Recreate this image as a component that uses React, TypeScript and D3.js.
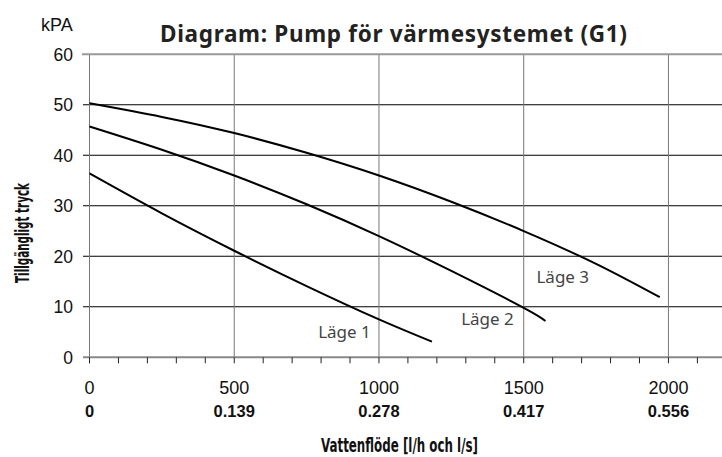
import React, { useEffect, useRef } from "react";
import * as d3 from "d3";

// Flow in l/h, pressure in kPa
const lage1: [number, number][] = [
  [0, 36.4], [250, 28.5], [500, 21.1], [750, 14.1], [1000, 7.5], [1183, 3.1],
];
const lage2: [number, number][] = [
  [0, 45.7], [250, 41.1], [500, 36.0], [750, 30.3], [1000, 24.0], [1250, 17.1],
  [1500, 9.8], [1575, 7.2],
];
const lage3: [number, number][] = [
  [0, 50.3], [250, 47.6], [500, 44.4], [750, 40.5], [1000, 36.0], [1250, 30.8],
  [1500, 25.0], [1750, 18.5], [1970, 11.9],
];
const curves = [lage1, lage2, lage3];

// label text with its anchor (flow, pressure at baseline)
const curveLabels: { text: string; x: number; y: number }[] = [
  { text: "Läge 1", x: 790, y: 3.8 },
  { text: "Läge 2", x: 1284, y: 6.4 },
  { text: "Läge 3", x: 1544, y: 14.8 },
];

const yTicks = [0, 10, 20, 30, 40, 50, 60];
const xTicks = [0, 500, 1000, 1500, 2000];
const xTicksLs = ["0", "0.139", "0.278", "0.417", "0.556"];
const minorTicks = d3.range(0, 2200, 100);

const W = 722;
const H = 457;

const App: React.FC = () => {
  const svgRef = useRef<SVGSVGElement>(null);

  useEffect(() => {
    if (!svgRef.current) return;
    const svg = d3.select(svgRef.current);
    svg.selectAll("*").remove();

    const x = d3.scaleLinear().domain([0, 2185]).range([89.5, W]);
    const y = d3.scaleLinear().domain([0, 60]).range([357.3, 54.3]);
    const left = 83;

    // horizontal grid
    svg.append("g")
      .selectAll("line")
      .data(yTicks.filter(d => d > 0 && d < 60))
      .join("line")
      .attr("x1", left).attr("x2", W)
      .attr("y1", d => y(d)).attr("y2", d => y(d))
      .attr("stroke", "#000")
      .attr("stroke-width", 1.1);

    // vertical grid
    svg.append("g")
      .selectAll("line")
      .data(xTicks.filter(d => d > 0))
      .join("line")
      .attr("x1", d => x(d)).attr("x2", d => x(d))
      .attr("y1", y(60)).attr("y2", y(0))
      .attr("stroke", "#777")
      .attr("stroke-width", 1);

    // left axis line
    svg.append("line")
      .attr("x1", x(0)).attr("x2", x(0))
      .attr("y1", y(60)).attr("y2", y(0) + 6)
      .attr("stroke", "#777")
      .attr("stroke-width", 1);

    // top border and bottom axis
    svg.append("line")
      .attr("x1", left - 1).attr("x2", W)
      .attr("y1", y(60)).attr("y2", y(60))
      .attr("stroke", "#999")
      .attr("stroke-width", 2);
    svg.append("line")
      .attr("x1", left).attr("x2", W)
      .attr("y1", y(0)).attr("y2", y(0))
      .attr("stroke", "#888")
      .attr("stroke-width", 2);

    // minor ticks
    svg.append("g")
      .selectAll("line")
      .data(minorTicks)
      .join("line")
      .attr("x1", d => x(d)).attr("x2", d => x(d))
      .attr("y1", y(0)).attr("y2", y(0) + 6)
      .attr("stroke", "#222")
      .attr("stroke-width", 1);

    // y tick labels
    svg.append("g")
      .selectAll("text")
      .data(yTicks)
      .join("text")
      .attr("x", 73)
      .attr("y", d => y(d))
      .attr("dy", "0.36em")
      .attr("text-anchor", "end")
      .attr("font-family", "'Liberation Sans', Arial, sans-serif")
      .attr("font-size", 17.5)
      .attr("fill", "#111")
      .text(d => d);

    // x tick labels, l/h and l/s
    svg.append("g")
      .selectAll("text")
      .data(xTicks)
      .join("text")
      .attr("x", d => x(d))
      .attr("y", 394)
      .attr("text-anchor", "middle")
      .attr("font-family", "'Liberation Sans', Arial, sans-serif")
      .attr("font-size", 18)
      .attr("fill", "#111")
      .text(d => d);
    svg.append("g")
      .selectAll("text")
      .data(xTicks)
      .join("text")
      .attr("x", d => x(d))
      .attr("y", 416.5)
      .attr("text-anchor", "middle")
      .attr("font-family", "'Liberation Sans', Arial, sans-serif")
      .attr("font-weight", "bold")
      .attr("font-size", 16.5)
      .attr("fill", "#111")
      .text((_, i) => xTicksLs[i]);

    // curves
    const line = d3.line<[number, number]>()
      .x(d => x(d[0]))
      .y(d => y(d[1]))
      .curve(d3.curveNatural);
    svg.append("g")
      .selectAll("path")
      .data(curves)
      .join("path")
      .attr("d", d => line(d))
      .attr("fill", "none")
      .attr("stroke", "#000")
      .attr("stroke-width", 2);

    svg.append("g")
      .selectAll("text")
      .data(curveLabels)
      .join("text")
      .attr("x", d => x(d.x))
      .attr("y", d => y(d.y))
      .attr("font-family", "'Noto Sans', sans-serif")
      .attr("font-size", 17)
      .attr("fill", "#444")
      .text(d => d.text);

    // titles
    svg.append("text")
      .attr("x", 160)
      .attr("y", 41.5)
      .attr("font-family", "'Noto Sans', sans-serif")
      .attr("font-weight", "bold")
      .attr("font-size", 22.5)
      .attr("fill", "#222")
      .attr("textLength", 467)
      .attr("lengthAdjust", "spacing")
      .text("Diagram: Pump för värmesystemet (G1)");

    svg.append("text")
      .attr("x", 41)
      .attr("y", 31)
      .attr("font-family", "'Liberation Sans', Arial, sans-serif")
      .attr("font-size", 18)
      .attr("fill", "#111")
      .text("kPA");

    svg.append("text")
      .attr("transform", "translate(29,233) rotate(-90)")
      .attr("text-anchor", "middle")
      .attr("font-family", "'Liberation Sans Narrow', 'DejaVu Sans Condensed', sans-serif")
      .attr("font-weight", "bold")
      .attr("font-size", 20)
      .attr("fill", "#111")
      .attr("textLength", 100)
      .attr("lengthAdjust", "spacingAndGlyphs")
      .text("Tillgängligt tryck");

    svg.append("text")
      .attr("x", 399.5)
      .attr("y", 452)
      .attr("text-anchor", "middle")
      .attr("font-family", "'Liberation Sans Narrow', 'DejaVu Sans Condensed', sans-serif")
      .attr("font-weight", "bold")
      .attr("font-size", 20)
      .attr("fill", "#111")
      .attr("textLength", 157)
      .attr("lengthAdjust", "spacingAndGlyphs")
      .text("Vattenflöde  [l/h och l/s]");
  }, []);

  return (
    <svg
      ref={svgRef}
      width={W}
      height={H}
      style={{ position: "absolute", left: 0, top: 0, background: "#fff" }}
    />
  );
};

export default App;
